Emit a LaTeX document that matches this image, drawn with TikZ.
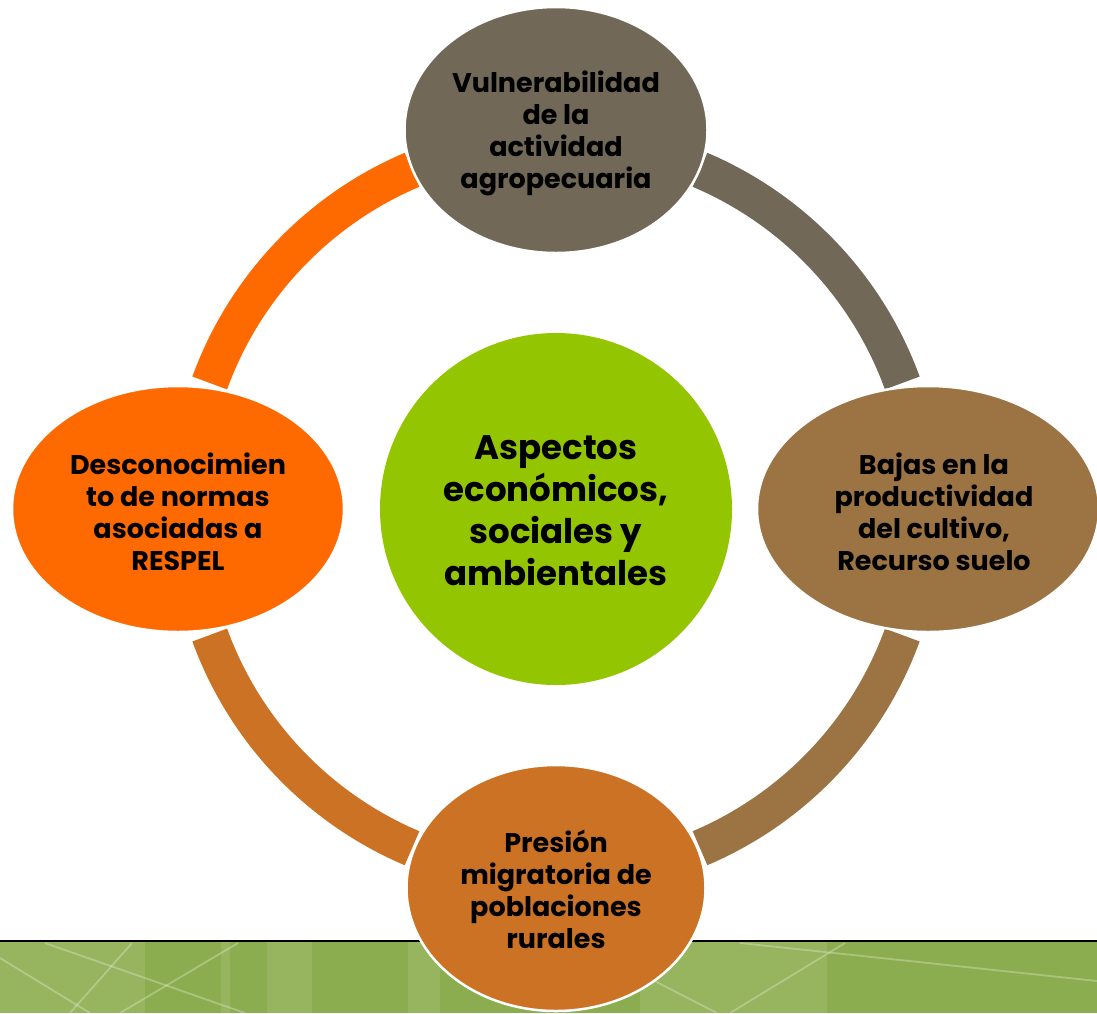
\documentclass[tikz,border=0pt]{standalone}
\usepackage{fontspec}
\setmainfont{Poppins}
\usetikzlibrary{shapes.geometric}
\definecolor{cgrey}{HTML}{716857}
\definecolor{cbrown}{HTML}{9C7443}
\definecolor{corange}{HTML}{FF6A00}
\definecolor{crust}{HTML}{CC7224}
\definecolor{cgreen}{HTML}{93C500}
\definecolor{bandA}{HTML}{8CAD4F}
\definecolor{bandB}{HTML}{97B45E}
\begin{document}
\begin{tikzpicture}[x=1pt,y=-1pt,
  ringarc/.style={line width=37pt},
  ell/.style={ellipse, draw=white, line width=2.5pt, inner sep=0pt},
  txt/.style={align=center, text=black, font=\fontsize{27}{32}\selectfont\bfseries},
  bigtxt/.style={align=center, text=black, font=\fontsize{34}{42}\selectfont\bfseries},
  bandline/.style={draw=white, opacity=0.28, line width=1.8pt},
  stripe/.style={fill=bandB}]
\useasboundingbox (0,0) rectangle (1097,1013);
\clip (0,0) rectangle (1097,1013);
\fill[white] (0,0) rectangle (1097,1013);
% bottom band
\fill[bandA] (0,941) rectangle (1097,1013);
\fill[stripe] (0,941) rectangle (145,1013);
\fill[stripe] (221,941) rectangle (230,1013);
\fill[stripe] (267,941) rectangle (312,1013);
\fill[stripe] (408,941) rectangle (440,1013);
\fill[stripe] (640,941) rectangle (827,1013);
\draw[bandline] (0,958) -- (90,1013);
\draw[bandline] (45,943) -- (245,1013);
\draw[bandline] (132,943) -- (70,1013);
\draw[bandline] (238,943) -- (120,1013);
\draw[bandline] (740,943) .. controls (900,960) .. (1097,981);
\draw[bandline] (845,943) -- (730,1013);
\draw[bandline] (600,953) -- (717,1013);
\draw[black, line width=2.5pt] (0,941) -- (1097,941);
% ring
\coordinate (C) at (556,509);
\draw[ringarc, corange] ([shift={(-113:368.5)}]C) arc[start angle=-113, end angle=-160, radius=368.5];
\draw[ringarc, cgrey] ([shift={(-20:368.5)}]C) arc[start angle=-20, end angle=-67, radius=368.5];
\draw[ringarc, cbrown] ([shift={(20:368.5)}]C) arc[start angle=20, end angle=67, radius=368.5];
\draw[ringarc, crust] ([shift={(160:368.5)}]C) arc[start angle=160, end angle=113, radius=368.5];
% centre
\node[circle, fill=cgreen, minimum size=352pt, inner sep=0pt] (center) at (C) {};
\node[bigtxt] (centertxt) at (556,511) {Aspectos\\económicos,\\sociales y\\ambientales};
% ellipses
\node[ell, fill=cgrey, minimum width=303pt, minimum height=246pt] (top) at (556,130) {};
\node[txt] (toptxt) at (556,133) {Vulnerabilidad\\de la\\actividad\\agropecuaria};
\node[ell, fill=cbrown, minimum width=342pt, minimum height=246pt] (right) at (928,509) {};
\node[txt] (righttxt) at (934,512) {Bajas en la\\productividad\\del cultivo,\\Recurso suelo};
\node[ell, fill=corange, minimum width=332pt, minimum height=246pt] (left) at (178,509) {};
\node[txt] (lefttxt) at (178,512) {Desconocimien\\to de normas\\asociadas a\\RESPEL};
\node[ell, fill=crust, minimum width=299pt, minimum height=246pt] (bottom) at (556,888) {};
\node[txt] (bottomtxt) at (556,889) {Presión\\migratoria de\\poblaciones\\rurales};
\end{tikzpicture}
\end{document}
